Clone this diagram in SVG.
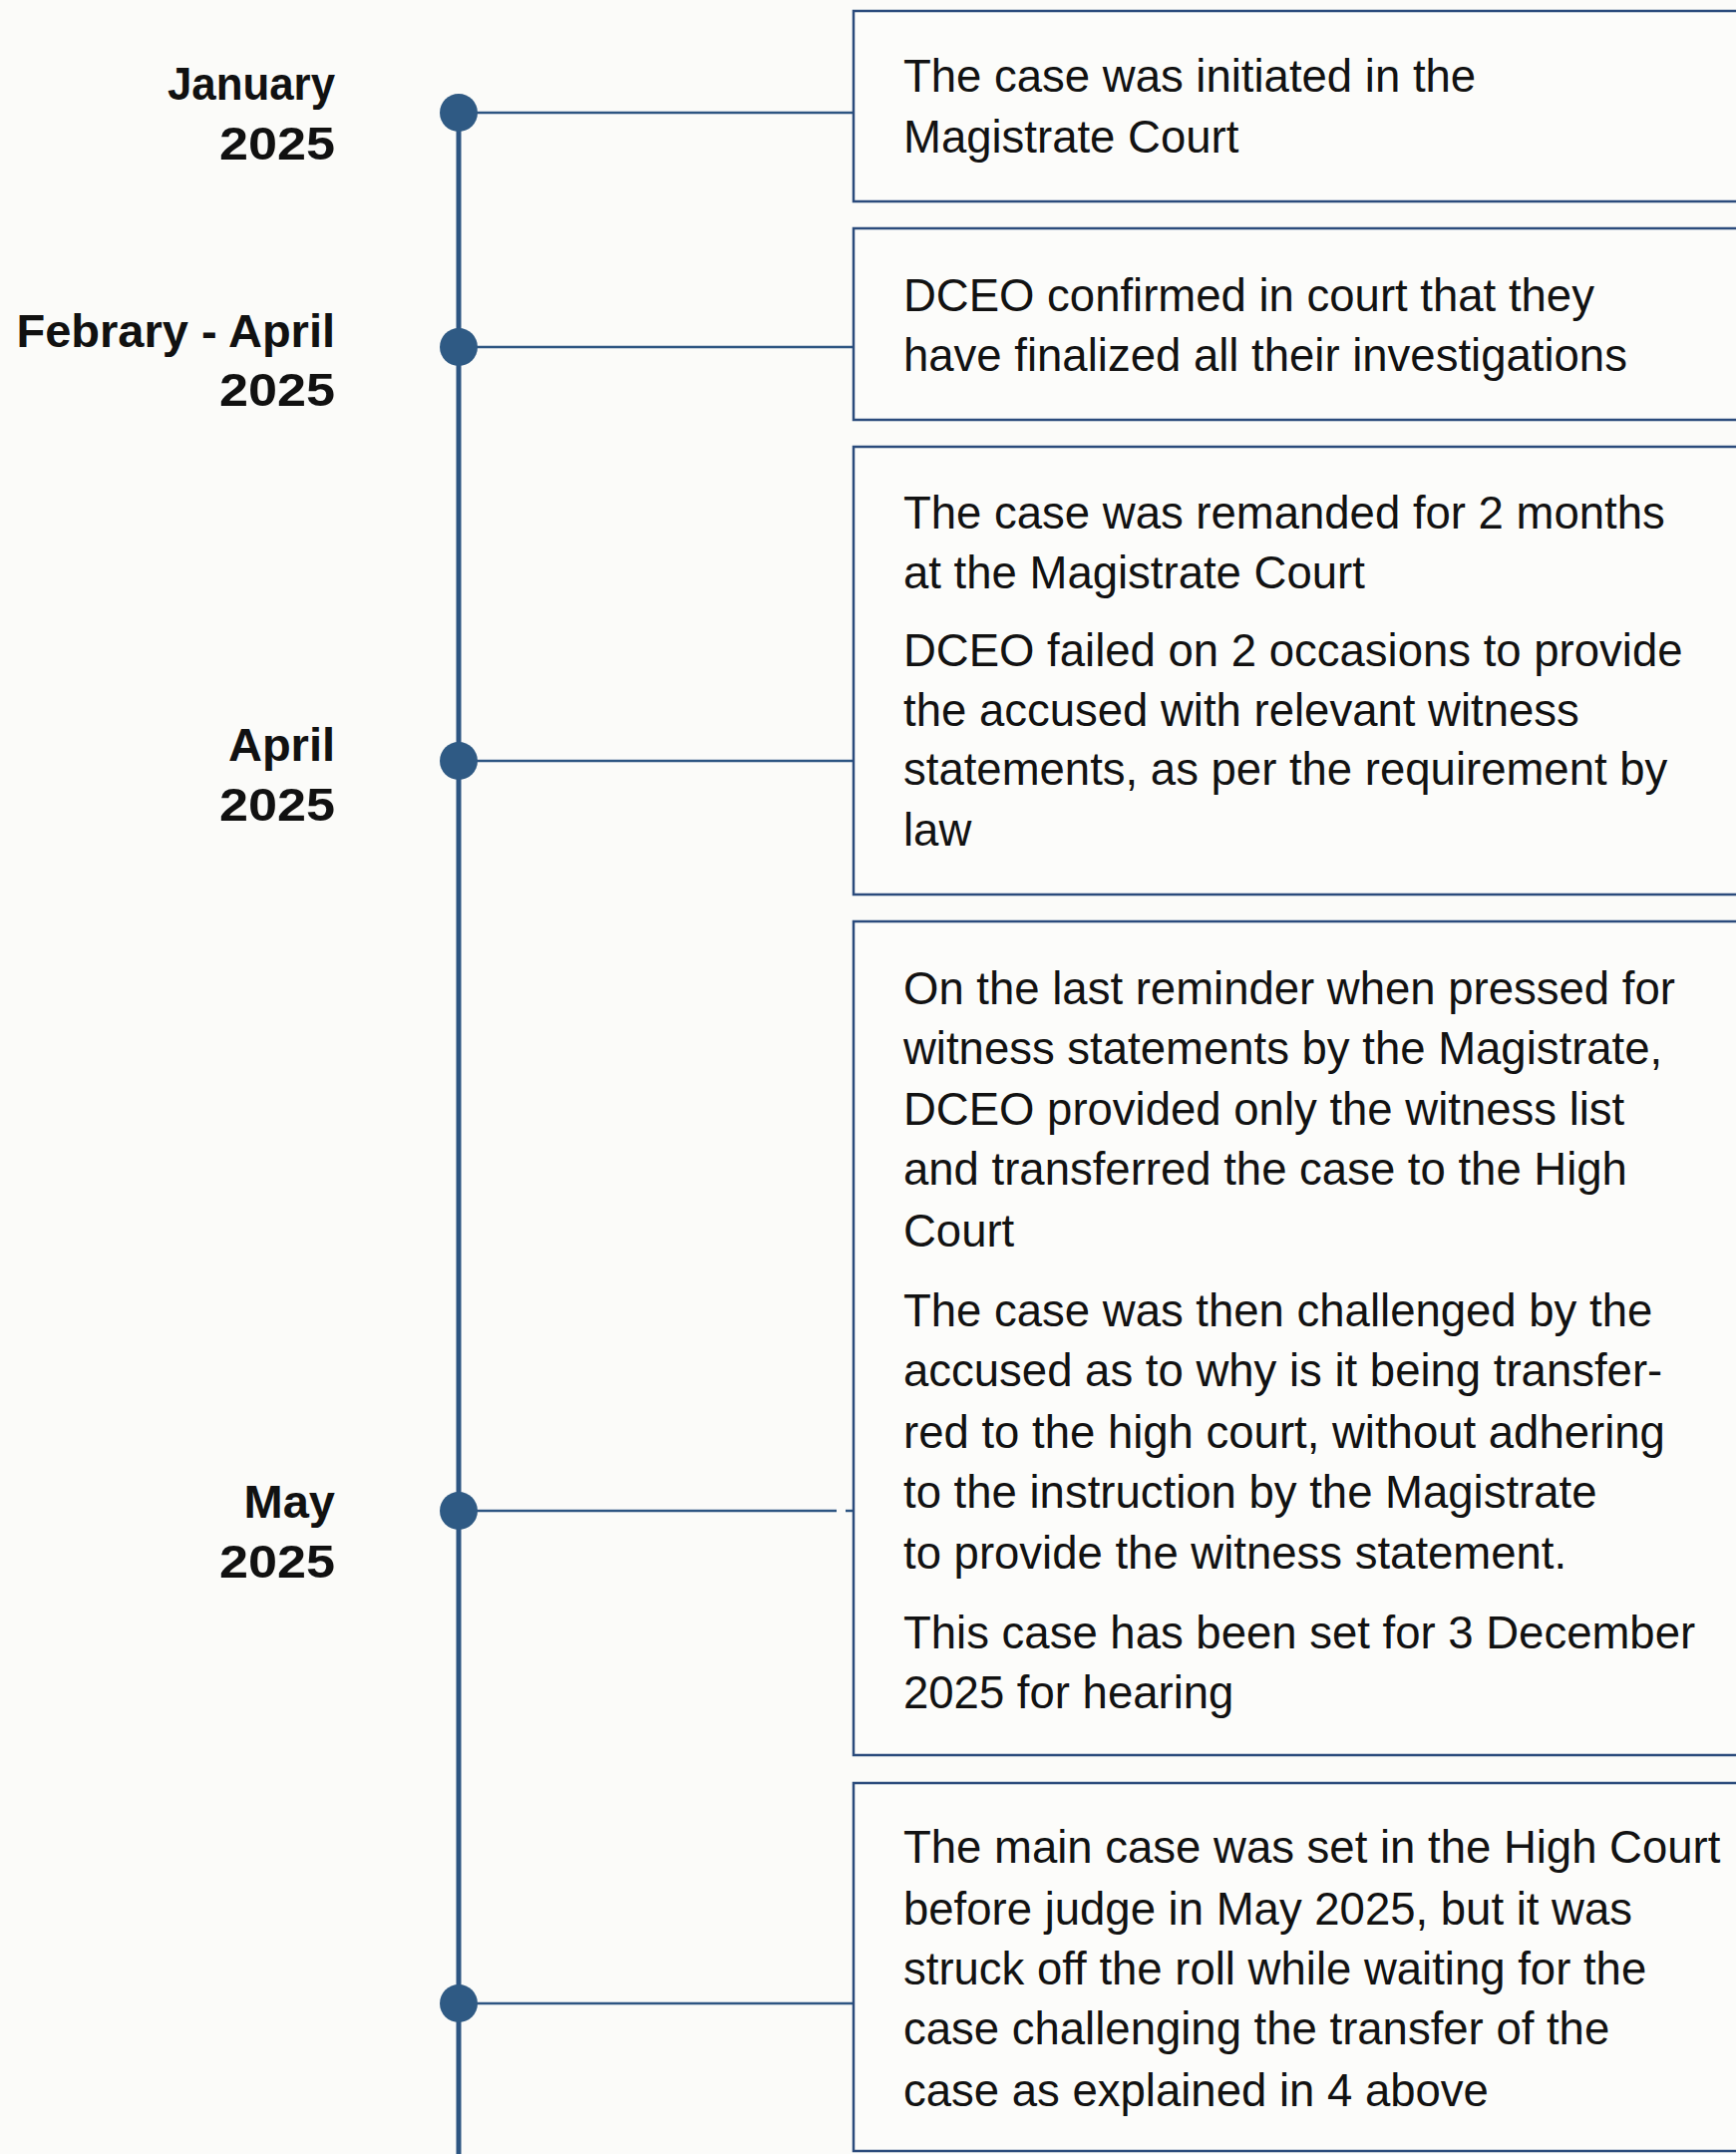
<svg xmlns="http://www.w3.org/2000/svg" width="1741" height="2160" viewBox="0 0 1741 2160">
<style>
.bg{fill:#fbfbf9}
.box{fill:#fcfcfa;stroke:#2b4b7c;stroke-width:2.5}
.txt{font-family:"Liberation Sans",Arial,sans-serif;font-size:45.5px;fill:#121212}
.date{font-family:"Liberation Sans",Arial,sans-serif;font-size:47px;font-weight:bold;fill:#111;text-anchor:end}
.spine{stroke:#2d5582;stroke-width:5;fill:none}
.conn{stroke:#2d5582;stroke-width:2.5;fill:none}
.dot{fill:#2f5a84}
</style>
<rect class="bg" x="0" y="0" width="1741" height="2160"/>
<g id="connectors">
<line class="spine" x1="460" y1="113" x2="460" y2="2160"/>
<line class="conn" x1="460" y1="113" x2="856" y2="113"/>
<line class="conn" x1="460" y1="348" x2="856" y2="348"/>
<line class="conn" x1="460" y1="763" x2="856" y2="763"/>
<line class="conn" x1="460" y1="1515" x2="839" y2="1515"/>
<line class="conn" x1="848" y1="1515" x2="856" y2="1515"/>
<line class="conn" x1="460" y1="2009" x2="856" y2="2009"/>
<circle class="dot" cx="460" cy="113" r="19"/>
<circle class="dot" cx="460" cy="348" r="19"/>
<circle class="dot" cx="460" cy="763" r="19"/>
<circle class="dot" cx="460" cy="1515" r="19"/>
<circle class="dot" cx="460" cy="2009" r="19"/>
</g>
<g id="date1"><text class="date" x="336" y="100" textLength="168" lengthAdjust="spacingAndGlyphs">January</text><text class="date" x="336" y="160" textLength="116" lengthAdjust="spacingAndGlyphs">2025</text></g>
<g id="date2"><text class="date" x="336" y="348">Febrary - April</text><text class="date" x="336" y="407" textLength="116" lengthAdjust="spacingAndGlyphs">2025</text></g>
<g id="date3"><text class="date" x="336" y="763">April</text><text class="date" x="336" y="823" textLength="116" lengthAdjust="spacingAndGlyphs">2025</text></g>
<g id="date4"><text class="date" x="336" y="1522">May</text><text class="date" x="336" y="1582" textLength="116" lengthAdjust="spacingAndGlyphs">2025</text></g>
<g id="event1">
<rect class="box" x="856" y="11" width="910" height="191"/>
<text class="txt" x="906" y="92">The case was initiated in the</text>
<text class="txt" x="906" y="153">Magistrate Court</text>
</g>
<g id="event2">
<rect class="box" x="856" y="229" width="910" height="192"/>
<text class="txt" x="906" y="312">DCEO confirmed in court that they</text>
<text class="txt" x="906" y="372">have finalized all their investigations</text>
</g>
<g id="event3">
<rect class="box" x="856" y="448" width="910" height="449"/>
<text class="txt" x="906" y="530">The case was remanded for 2 months</text>
<text class="txt" x="906" y="590">at the Magistrate Court</text>
<text class="txt" x="906" y="668">DCEO failed on 2 occasions to provide</text>
<text class="txt" x="906" y="728">the accused with relevant witness</text>
<text class="txt" x="906" y="787">statements, as per the requirement by</text>
<text class="txt" x="906" y="848">law</text>
</g>
<g id="event4">
<rect class="box" x="856" y="924" width="910" height="836"/>
<text class="txt" x="906" y="1007">On the last reminder when pressed for</text>
<text class="txt" x="906" y="1067">witness statements by the Magistrate,</text>
<text class="txt" x="906" y="1128">DCEO provided only the witness list</text>
<text class="txt" x="906" y="1188">and transferred the case to the High</text>
<text class="txt" x="906" y="1250">Court</text>
<text class="txt" x="906" y="1330">The case was then challenged by the</text>
<text class="txt" x="906" y="1390">accused as to why is it being transfer-</text>
<text class="txt" x="906" y="1452">red to the high court, without adhering</text>
<text class="txt" x="906" y="1512">to the instruction by the Magistrate</text>
<text class="txt" x="906" y="1573">to provide the witness statement.</text>
<text class="txt" x="906" y="1653">This case has been set for 3 December</text>
<text class="txt" x="906" y="1713">2025 for hearing</text>
</g>
<g id="event5">
<rect class="box" x="856" y="1788" width="910" height="369"/>
<text class="txt" x="906" y="1868">The main case was set in the High Court</text>
<text class="txt" x="906" y="1930">before judge in May 2025, but it was</text>
<text class="txt" x="906" y="1990">struck off the roll while waiting for the</text>
<text class="txt" x="906" y="2050">case challenging the transfer of the</text>
<text class="txt" x="906" y="2112">case as explained in 4 above</text>
</g>
</svg>
